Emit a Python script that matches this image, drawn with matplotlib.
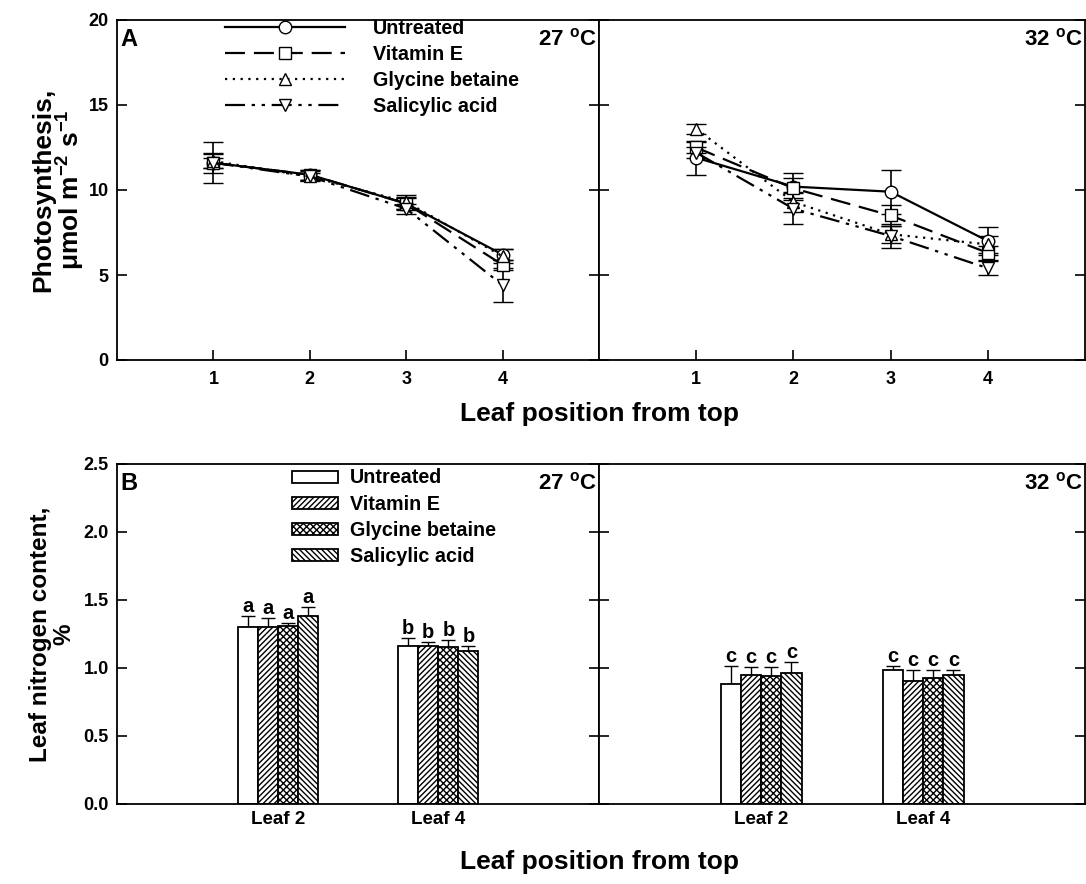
import numpy as np
import matplotlib
matplotlib.use('Agg')
import matplotlib.pyplot as plt

plt.rcParams['font.family'] = ['Liberation Sans', 'DejaVu Sans']
plt.rcParams['font.weight'] = 'bold'
plt.rcParams['mathtext.fontset'] = 'custom'
plt.rcParams['mathtext.rm'] = 'Liberation Sans:bold'
plt.rcParams['mathtext.bf'] = 'Liberation Sans:bold'
plt.rcParams['mathtext.it'] = 'Liberation Sans:bold'
plt.rcParams['hatch.linewidth'] = 1.0

treatments = ['Untreated', 'Vitamin E', 'Glycine betaine', 'Salicylic acid']
temps = ['27', '32']

# panel A: photosynthesis by leaf position
leaf_pos = [1, 2, 3, 4]
photo_27 = [[11.6, 10.9, 9.2, 6.2],
            [11.6, 10.9, 9.2, 5.6],
            [11.7, 10.8, 9.3, 6.1],
            [11.6, 10.8, 8.9, 4.4]]
photo_27_err = [[1.2, 0.3, 0.4, 0.3],
                [0.6, 0.3, 0.3, 0.3],
                [0.4, 0.3, 0.4, 0.4],
                [0.3, 0.2, 0.3, 1.0]]
photo_32 = [[11.9, 10.2, 9.9, 7.0],
            [12.5, 10.1, 8.5, 6.3],
            [13.6, 9.3, 7.4, 6.8],
            [12.2, 8.9, 7.3, 5.4]]
photo_32_err = [[1.0, 0.8, 1.3, 0.8],
                [0.3, 0.6, 0.6, 0.4],
                [0.3, 0.6, 0.5, 0.5],
                [0.3, 0.9, 0.7, 0.4]]

# panel B: leaf nitrogen
leaf_labels = ['Leaf 2', 'Leaf 4']
nitro_27 = [[1.30, 1.16], [1.30, 1.16], [1.31, 1.155], [1.38, 1.125]]
nitro_27_err = [[0.08, 0.06], [0.07, 0.03], [0.02, 0.05], [0.07, 0.04]]
nitro_32 = [[0.883, 0.985], [0.948, 0.907], [0.941, 0.926], [0.961, 0.948]]
nitro_32_err = [[0.13, 0.03], [0.06, 0.08], [0.07, 0.06], [0.085, 0.04]]
letters_27 = [['a', 'b'], ['a', 'b'], ['a', 'b'], ['a', 'b']]
letters_32 = [['c', 'c'], ['c', 'c'], ['c', 'c'], ['c', 'c']]

markers = ['o', 's', '^', 'v']
styles = ['-', (0, (9, 4)), (0, (1, 2.5)), (0, (9, 3, 1.5, 3, 1.5, 3))]
hatches = ['', '//////', 'xxxxx', '\\\\\\\\\\\\']

fig = plt.figure(figsize=(10.86, 8.84), dpi=100)
W, H = 1086, 884


def add_ax(x0, y0, x1, y1):
    return fig.add_axes([x0 / W, 1 - y1 / H, (x1 - x0) / W, (y1 - y0) / H])


axA1 = add_ax(117, 20, 599, 360)
axA2 = add_ax(599, 20, 1085, 360)
axB1 = add_ax(117, 464, 599, 804)
axB2 = add_ax(599, 464, 1085, 804)

for ax in [axA1, axA2, axB1, axB2]:
    for s in ax.spines.values():
        s.set_linewidth(1.3)
    ax.tick_params(direction='in', length=7, width=1.2, labelsize=13,
                   right=True, top=False, pad=6)

# --- panel A
for ax, vals, errs, t in [(axA1, photo_27, photo_27_err, temps[0]),
                          (axA2, photo_32, photo_32_err, temps[1])]:
    for i, name in enumerate(treatments):
        ax.errorbar(leaf_pos, vals[i], yerr=errs[i], color='k', lw=1.6,
                    ls=styles[i], marker=markers[i], ms=9, mfc='white',
                    mec='k', mew=1.0, capsize=7, elinewidth=1.2,
                    capthick=1.2, label=name)
    ax.set_xlim(0, 5)
    ax.set_ylim(0, 20)
    ax.set_xticks(leaf_pos)
    ax.set_yticks([0, 5, 10, 15, 20])
    ax.tick_params(axis='x', pad=8)
    ax.text(0.995, 0.975, t + r' $^{\mathrm{o}}$C', transform=ax.transAxes,
            ha='right', va='top', fontsize=16, fontweight='bold')
axA2.tick_params(labelleft=False)
axA1.text(0.008, 0.975, 'A', transform=axA1.transAxes, ha='left', va='top',
          fontsize=17, fontweight='bold')
hnd, lab = axA1.get_legend_handles_labels()
hnd = [h[0] for h in hnd]
axA1.legend(hnd, lab, loc='upper left', bbox_to_anchor=(0.2075, 1.025),
            frameon=False, fontsize=14.2, handlelength=6.1,
            handletextpad=1.4, labelspacing=0.34, borderaxespad=0)
axA1.set_ylabel('Photosynthesis,\n' + r'$\mathrm{\mu}$mol m$^{-2}$ s$^{-1}$',
                fontsize=19, fontweight='bold', labelpad=1, linespacing=1.0)
fig.text(599 / W, 1 - 414 / H, 'Leaf position from top', ha='center',
         va='center', fontsize=19, fontweight='bold')

# --- panel B
x = np.arange(1, len(leaf_labels) + 1)
bw = 0.125
for ax, vals, errs, lets, t in [(axB1, nitro_27, nitro_27_err, letters_27, temps[0]),
                                (axB2, nitro_32, nitro_32_err, letters_32, temps[1])]:
    for i, name in enumerate(treatments):
        xs = x + (i - 1.5) * bw
        ax.bar(xs, vals[i], width=bw, color='white', edgecolor='k', lw=1.3,
               hatch=hatches[i], label=name, zorder=2)
        ax.errorbar(xs, vals[i], yerr=[np.zeros(len(x)), errs[i]], fmt='none',
                    ecolor='k', elinewidth=1.0, capsize=5, capthick=1.0,
                    zorder=1)
        for xx, v, e, l in zip(xs, vals[i], errs[i], lets[i]):
            ax.text(xx, v + e, l, ha='center', va='bottom',
                    fontsize=14.5, fontweight='bold')
    ax.set_xlim(0, 3)
    ax.set_ylim(0, 2.5)
    ax.set_xticks(x)
    ax.set_xticklabels(leaf_labels)
    ax.tick_params(axis='x', length=0, pad=5, labelsize=13.5)
    ax.set_yticks([0, 0.5, 1.0, 1.5, 2.0, 2.5])
    ax.set_yticklabels(['0.0', '0.5', '1.0', '1.5', '2.0', '2.5'])
    ax.text(0.995, 0.975, t + r' $^{\mathrm{o}}$C', transform=ax.transAxes,
            ha='right', va='top', fontsize=16, fontweight='bold')
axB2.tick_params(labelleft=False)
axB1.text(0.008, 0.975, 'B', transform=axB1.transAxes, ha='left', va='top',
          fontsize=17, fontweight='bold')
axB1.legend(loc='upper left', bbox_to_anchor=(0.347, 1.01), frameon=False,
            fontsize=14.2, handlelength=2.35, handleheight=0.56,
            handletextpad=0.56, labelspacing=0.36, borderaxespad=0)
axB1.set_ylabel('Leaf nitrogen content,\n%', fontsize=17.5, fontweight='bold',
                labelpad=6, linespacing=1.0)
fig.text(599 / W, 1 - 862 / H, 'Leaf position from top', ha='center',
         va='center', fontsize=19, fontweight='bold')

fig.savefig('out.png', dpi=100)
